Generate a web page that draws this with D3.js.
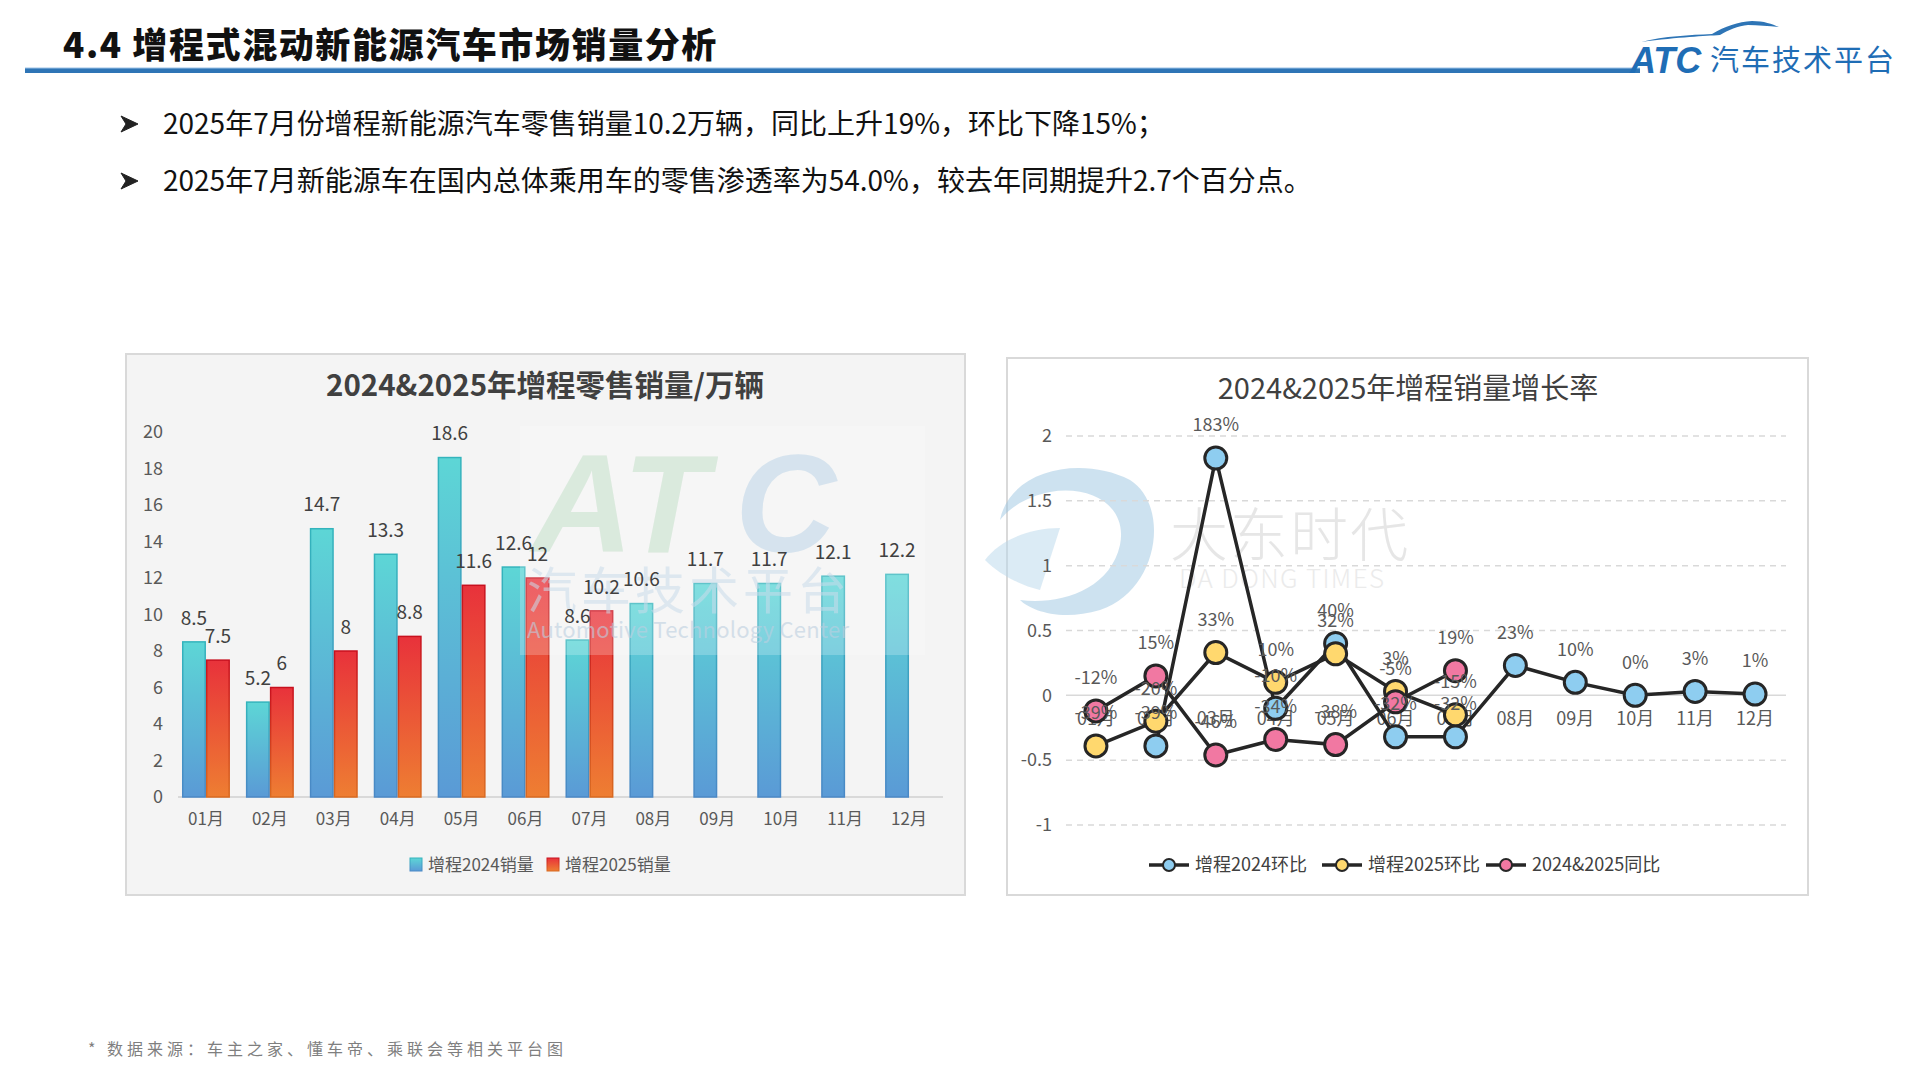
<!DOCTYPE html>
<html>
<head>
<meta charset="utf-8">
<script src="https://cdn.jsdelivr.net/npm/d3@7"></script>
<style>
html,body{margin:0;padding:0;background:#fff;}
svg{display:block;font-family:"Noto Sans CJK SC","Noto Sans",sans-serif;}
</style>
</head>
<body>
<svg id="c" width="1920" height="1080"></svg>
<script>
// ---------- data ----------
const months = ["01月","02月","03月","04月","05月","06月","07月","08月","09月","10月","11月","12月"];
const sales2024 = [8.5,5.2,14.7,13.3,18.6,12.6,8.6,10.6,11.7,11.7,12.1,12.2];
const sales2025 = [7.5,6,8,8.8,11.6,12,10.2,null,null,null,null,null];
const barTicks = [0,2,4,6,8,10,12,14,16,18,20];
const barSeriesNames = ["增程2024销量","增程2025销量"];

const mom2024 = [null,-0.39,1.83,-0.10,0.40,-0.32,-0.32,0.23,0.10,0.00,0.03,0.01];
const mom2025 = [-0.39,-0.20,0.33,0.10,0.32,0.03,-0.15,null,null,null,null,null];
const yoy = [-0.12,0.15,-0.46,-0.34,-0.38,-0.05,0.19,null,null,null,null,null];
const lineTicks = [-1,-0.5,0,0.5,1,1.5,2];
const lineSeriesNames = ["增程2024环比","增程2025环比","2024&2025同比"];

const pageTitle = "4.4 增程式混动新能源汽车市场销量分析";
const bullets = ["2025年7月份增程新能源汽车零售销量10.2万辆，同比上升19%，环比下降15%；",
                 "2025年7月新能源车在国内总体乘用车的零售渗透率为54.0%，较去年同期提升2.7个百分点。"];
const footnote = "* 数据来源：车主之家、懂车帝、乘联会等相关平台图";
const barTitle = "2024&2025年增程零售销量/万辆";
const lineTitle = "2024&2025年增程销量增长率";

// ---------- page ----------
const svg = d3.select("#c");
const defs = svg.append("defs");
function grad(id, top, bottom){
  const g = defs.append("linearGradient").attr("id",id).attr("x1",0).attr("y1",0).attr("x2",0).attr("y2",1);
  g.append("stop").attr("offset","0%").attr("stop-color",top);
  g.append("stop").attr("offset","100%").attr("stop-color",bottom);
}
grad("gCyan","#5DD6D6","#5A9AD6");
grad("gRed","#E8323B","#EE7E32");
grad("sCyan","#33B4BC","#4A88C6");
grad("sRed","#C8101E","#D96A20");

// header
svg.append("text").attr("x",63).attr("y",58).attr("font-size",35).attr("font-weight",900).attr("letter-spacing",1.6)
  .attr("fill","#111").text(pageTitle);
svg.append("rect").attr("x",25).attr("y",68).attr("width",1615).attr("height",5).attr("fill","#2E75B6");
svg.append("line").attr("x1",25).attr("x2",1640).attr("y1",68).attr("y2",68).attr("stroke","#9DC3E6").attr("stroke-width",1);

// logo
const logo = svg.append("g");
logo.append("path").attr("d","M1641,42 C1665,36 1690,35 1712,34 C1725,26 1738,22 1752,21 C1764,21 1772,24 1779,27 C1768,26 1758,25 1748,25 C1738,26 1728,30 1720,35 C1705,36 1680,37 1641,42 Z")
  .attr("fill","#2E75B6");
logo.append("text").attr("x",1630).attr("y",73).attr("font-size",36).attr("font-weight",900).attr("font-style","italic")
  .attr("fill","#1F6DB5").attr("font-family","Liberation Sans, Arial, sans-serif").text("ATC");
logo.append("text").attr("x",1710).attr("y",71).attr("font-size",29).attr("fill","#1F6DB5").attr("letter-spacing",2).text("汽车技术平台");

// bullets
bullets.forEach((t,i)=>{
  const cy = 124 + i*57;
  svg.append("path").attr("d",`M121,${cy-8} L138,${cy} L121,${cy+8} L126,${cy} Z`).attr("fill","#222").attr("stroke","#222").attr("stroke-width",1);
  svg.append("text").attr("x",163).attr("y",cy+10).attr("font-size",28).attr("fill","#111").text(t);
});

// footnote
svg.append("text").attr("x",88).attr("y",1055).attr("font-size",16).attr("letter-spacing",4).attr("fill","#7F7F7F").text(footnote);

// ---------- bar chart ----------
const bp = svg.append("g");
bp.append("rect").attr("x",126).attr("y",354).attr("width",839).attr("height",541)
  .attr("fill","#F4F4F4").attr("stroke","#D9D9D9").attr("stroke-width",2);
bp.append("text").attr("x",545).attr("y",396).attr("text-anchor","middle").attr("font-size",29.5).attr("font-weight",700)
  .attr("fill","#404040").text(barTitle);

const x = d3.scaleBand().domain(months).range([174,941]).paddingInner(0.25).paddingOuter(0.125);
const xs = d3.scaleBand().domain(["a","b"]).range([0,x.bandwidth()]);
const y = d3.scaleLinear().domain([0,20]).range([797,432]);

bp.selectAll(".yt").data(barTicks).join("text").attr("x",163).attr("y",d=>y(d)).attr("dy","0.35em")
  .attr("text-anchor","end").attr("font-size",18).attr("fill","#595959").text(d=>d);
bp.append("line").attr("x1",178).attr("x2",943).attr("y1",y(0)).attr("y2",y(0)).attr("stroke","#D9D9D9").attr("stroke-width",2);
bp.selectAll(".xt").data(months).join("text").attr("x",d=>x(d)+x.bandwidth()/2).attr("y",825)
  .attr("text-anchor","middle").attr("font-size",17).attr("fill","#595959").text(d=>d);

const barData = [];
months.forEach((m,i)=>{
  barData.push({m,k:"a",v:sales2024[i]});
  if(sales2025[i]!=null) barData.push({m,k:"b",v:sales2025[i]});
});
bp.selectAll(".bar").data(barData).join("rect")
  .attr("x",d=>x(d.m)+xs(d.k)+0.75).attr("width",xs.bandwidth()-1.5)
  .attr("y",d=>y(d.v)).attr("height",d=>y(0)-y(d.v))
  .attr("fill",d=>d.k==="a"?"url(#gCyan)":"url(#gRed)")
  .attr("stroke",d=>d.k==="a"?"url(#sCyan)":"url(#sRed)").attr("stroke-width",1.5);

// watermark overlay (ATC)
const wm = bp.append("g");
wm.append("rect").attr("x",520).attr("y",426).attr("width",405).attr("height",229).attr("fill","#fff").attr("opacity",0.22);
wm.append("text").attr("x",532).attr("y",552).attr("font-size",140).attr("font-weight",900).attr("font-style","italic")
  .attr("font-family","Liberation Sans, Arial, sans-serif").attr("fill","#CFE5D3").attr("opacity",0.7).text("AT");
wm.append("text").attr("x",735).attr("y",552).attr("font-size",140).attr("font-weight",900).attr("font-style","italic")
  .attr("font-family","Liberation Sans, Arial, sans-serif").attr("fill","#C9DCEB").attr("opacity",0.7).text("C");
wm.append("text").attr("x",527).attr("y",609).attr("font-size",50).attr("fill","#C9DCEB").attr("opacity",0.55).attr("letter-spacing",4).text("汽车技术平台");
wm.append("text").attr("x",527).attr("y",638).attr("font-size",22).attr("fill","#BCCFE0").attr("opacity",0.6)
  .attr("textLength",322).text("Automotive Technology Center");

bp.selectAll(".bl").data(barData).join("text")
  .attr("x",d=>x(d.m)+xs(d.k)+xs.bandwidth()/2).attr("y",d=>y(d.v)-24).attr("dy","0.35em")
  .attr("text-anchor","middle").attr("font-size",19).attr("fill","#404040").text(d=>d.v);

// bar legend
const bl = bp.append("g");
[["url(#gCyan)","url(#sCyan)",410],["url(#gRed)","url(#sRed)",547]].forEach((s,i)=>{
  bl.append("rect").attr("x",s[2]).attr("y",858).attr("width",12).attr("height",13).attr("fill",s[0]).attr("stroke",s[1]).attr("stroke-width",1);
  bl.append("text").attr("x",s[2]+18).attr("y",865).attr("dy","0.35em").attr("font-size",17).attr("fill","#595959").text(barSeriesNames[i]);
});

// ---------- line chart ----------
const lp = svg.append("g");
lp.append("rect").attr("x",1007).attr("y",358).attr("width",801).attr("height",537)
  .attr("fill","#fff").attr("stroke","#D9D9D9").attr("stroke-width",2);

// watermark (大东时代)
const wm2 = lp.append("g").attr("opacity",0.5);
wm2.append("path").attr("d","M1000,520 C1010,470 1080,455 1130,480 C1170,505 1160,590 1100,610 C1060,622 1030,610 1020,600 C1060,605 1110,590 1120,545 C1128,505 1090,485 1050,492 C1030,496 1012,505 1000,520 Z")
  .attr("fill","#9CC6E2");
wm2.append("path").attr("d","M985,560 C1000,540 1030,528 1060,528 L1040,590 C1020,585 1000,575 985,560 Z").attr("fill","#B9D8EC");
wm2.append("text").attr("x",1170).attr("y",556).attr("font-size",58).attr("fill","#CFCFCF").attr("font-weight",300).attr("letter-spacing",2).text("大东时代");
wm2.append("text").attr("x",1179).attr("y",588).attr("font-size",26).attr("fill","#D8D8D8").attr("font-weight",300).attr("textLength",205).text("DA DONG TIMES");

lp.append("text").attr("x",1408).attr("y",399).attr("text-anchor","middle").attr("font-size",29)
  .attr("fill","#404040").text(lineTitle);

const lx = d3.scalePoint().domain(months).range([1066,1785]).padding(0.5);
const ly = d3.scaleLinear().domain([-1,2]).range([825,436]);

lp.selectAll(".grid").data(lineTicks).join("line")
  .attr("x1",1066).attr("x2",1786).attr("y1",d=>ly(d)).attr("y2",d=>ly(d))
  .attr("stroke","#D9D9D9").attr("stroke-width",1.5).attr("stroke-dasharray",d=>d===0?null:"6,5");
lp.selectAll(".lyt").data(lineTicks).join("text").attr("x",1052).attr("y",d=>ly(d)).attr("dy","0.35em")
  .attr("text-anchor","end").attr("font-size",18).attr("fill","#595959").text(d=>d);
lp.selectAll(".lxt").data(months).join("text").attr("x",d=>lx(d)).attr("y",719).attr("dy","0.35em")
  .attr("text-anchor","middle").attr("font-size",18).attr("fill","#595959").text(d=>d);

const lineSeries = [
  {vals:mom2024,color:"#8ECDF0"},
  {vals:mom2025,color:"#FFD86E"},
  {vals:yoy,color:"#F178A2"}
];
const lineGen = d3.line().defined(d=>d.v!=null).x(d=>lx(d.m)).y(d=>ly(d.v));
lineSeries.forEach(s=>{
  const pts = months.map((m,i)=>({m,v:s.vals[i]}));
  const g = lp.append("g");
  g.append("path").datum(pts).attr("d",lineGen).attr("fill","none").attr("stroke","#262626").attr("stroke-width",3.5);
  g.selectAll("circle").data(pts.filter(d=>d.v!=null)).join("circle")
    .attr("cx",d=>lx(d.m)).attr("cy",d=>ly(d.v)).attr("r",11)
    .attr("fill",s.color).attr("stroke","#262626").attr("stroke-width",3);
});
lineSeries.forEach(s=>{
  const pts = months.map((m,i)=>({m,v:s.vals[i]})).filter(d=>d.v!=null);
  lp.append("g").selectAll("text").data(pts).join("text")
    .attr("x",d=>lx(d.m)).attr("y",d=>ly(d.v)-33).attr("dy","0.35em")
    .attr("text-anchor","middle").attr("font-size",18).attr("fill","#595959")
    .text(d=>Math.round(d.v*100)+"%");
});

// line legend
const ll = lp.append("g");
[[1149,1195],[1322,1368],[1486,1532]].forEach((p,i)=>{
  ll.append("line").attr("x1",p[0]).attr("x2",p[0]+40).attr("y1",865).attr("y2",865).attr("stroke","#262626").attr("stroke-width",3.5);
  ll.append("circle").attr("cx",p[0]+20).attr("cy",865).attr("r",6).attr("fill",lineSeries[i].color).attr("stroke","#262626").attr("stroke-width",2);
  ll.append("text").attr("x",p[1]).attr("y",865).attr("dy","0.35em").attr("font-size",18).attr("fill","#404040").text(lineSeriesNames[i]);
});
</script>
</body>
</html>
